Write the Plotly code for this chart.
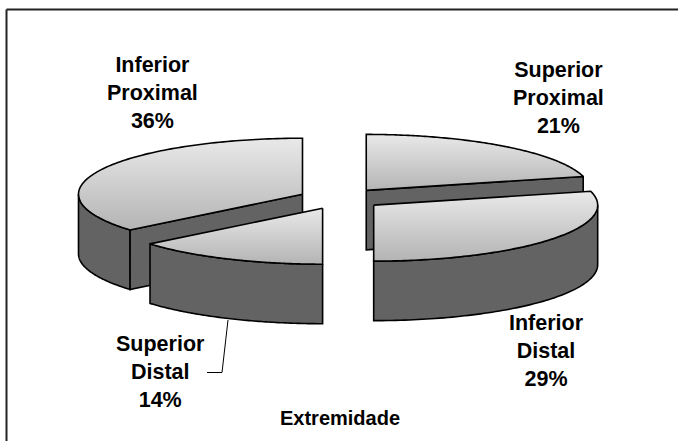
import numpy as np
import plotly.graph_objects as go

# --- data ---
categories = ["Superior<br>Proximal", "Inferior<br>Distal", "Superior<br>Distal", "Inferior<br>Proximal"]
percent_values = [21, 29, 14, 36]
chart_title = "Extremidade"

# --- geometry / style ---
W, H = 678, 441
CX, CY = 340.5, 198.7
RX, RY = 224, 56
EXPLODE = 42
DEPTH = 59.5
draw_order = [0, 1, 3, 2]
label_xy = [(558, 98), (546, 351), (160, 372), (152, 93)]
TOP_LIGHT, TOP_DARK = "#e9e9e9", "#b4b4b4"
WALL = "#636363"
FONT = "Liberation Sans, Arial, sans-serif"
FS = 21.5


def pt(ox, oy, deg):
    t = np.radians(deg)
    return ox + RX * np.sin(t), oy - RY * np.cos(t)


fig = go.Figure()


def poly(x, y, **kw):
    fig.add_trace(go.Scatter(x=list(x), y=list(y), mode="lines", fill="toself",
                             line=dict(color="black", width=1.6, simplify=False),
                             hoverinfo="skip", showlegend=False, **kw))


total = sum(percent_values)
edges = np.concatenate([[0], np.cumsum(percent_values)]) / total * 360

for i in draw_order:
    a0, a1 = edges[i], edges[i + 1]
    mid = np.radians((a0 + a1) / 2)
    ox = CX + EXPLODE * np.sin(mid)
    oy = CY - EXPLODE * np.cos(mid) * RY / RX

    # visible cut faces
    for ang, normal in ((a0, a0 - 90), (a1, a1 + 90)):
        if np.cos(np.radians(normal)) < -1e-6:
            rx, ry = pt(ox, oy, ang)
            poly([ox, rx, rx, ox, ox], [oy, ry, ry + DEPTH, oy + DEPTH, oy], fillcolor=WALL)

    # visible outer wall (front half of the rim)
    lo, hi = max(a0, 90), min(a1, 270)
    if hi > lo:
        th = np.linspace(lo, hi, 80)
        xs, ys = pt(ox, oy, th)
        poly(np.concatenate([xs, xs[::-1], xs[:1]]),
             np.concatenate([ys, ys[::-1] + DEPTH, ys[:1]]), fillcolor=WALL)

    # top face (light at the back edge, darker toward the viewer)
    th = np.linspace(a0, a1, 120)
    xs, ys = pt(ox, oy, th)
    poly(np.concatenate([[ox], xs, [ox]]), np.concatenate([[oy], ys, [oy]]),
         fillgradient=dict(type="vertical",
                           colorscale=[[0, TOP_DARK], [1, TOP_LIGHT]]))

# leader line for Superior Distal
fig.add_trace(go.Scatter(x=[228, 222, 207], y=[320, 372.5, 372.5], mode="lines",
                         line=dict(color="black", width=1), hoverinfo="skip", showlegend=False))

for cat, val, (lx, ly) in zip(categories, percent_values, label_xy):
    fig.add_annotation(x=lx, y=ly, text=f"<b>{cat}<br>{val}%</b>", showarrow=False,
                       xanchor="center", yanchor="middle", align="center",
                       font=dict(family=FONT, size=FS, color="black"))
fig.add_annotation(x=340, y=418, text=f"<b>{chart_title}</b>", showarrow=False,
                   xanchor="center", yanchor="middle",
                   font=dict(family=FONT, size=20, color="black"))

# chart-area border (top and left only are in frame)
fig.add_shape(type="line", x0=6.5, x1=W, y0=9.5, y1=9.5, line=dict(color="#222222", width=2))
fig.add_shape(type="line", x0=6.5, x1=6.5, y0=9.5, y1=H, line=dict(color="#222222", width=2))

fig.update_layout(width=W, height=H, margin=dict(l=0, r=0, t=0, b=0),
                  paper_bgcolor="white", plot_bgcolor="white", showlegend=False)
fig.update_xaxes(range=[0, W], visible=False, fixedrange=True)
fig.update_yaxes(range=[H, 0], visible=False, fixedrange=True)
fig.write_html("out.html", config=dict(displayModeBar=False),
               post_script="document.body.style.margin='0';document.documentElement.style.overflow='hidden';")
